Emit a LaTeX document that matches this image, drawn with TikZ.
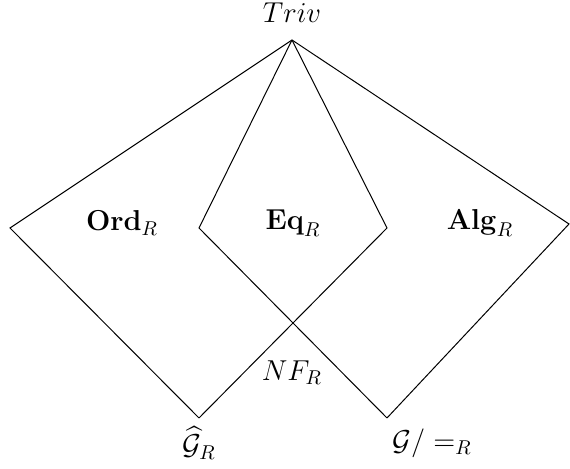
\documentclass[tikz,border=0pt]{standalone}
\usepackage{amsmath,amssymb}
\begin{document}
\begin{tikzpicture}[x=0.5pt,y=-0.5pt,
  edge/.style={line width=0.5pt,black},
  lbl/.style={font=\fontsize{14.5}{17}\selectfont,inner sep=0pt}]
\useasboundingbox (0,0) rectangle (570,469);
% vertices
\coordinate (top) at (292,40);
\coordinate (lv) at (10,228);
\coordinate (ml) at (199,228);
\coordinate (mr) at (387,228);
\coordinate (rv) at (569,224);
\coordinate (bl) at (199,418);
\coordinate (br) at (387,418);
% edges
\draw[edge] (top) -- (lv) -- (bl);
\draw[edge] (top) -- (ml) -- (br);
\draw[edge] (top) -- (mr) -- (bl);
\draw[edge] (top) -- (rv) -- (br);
% labels
\node[lbl] (triv) at (292,13) {$Triv$};
\node[lbl] (ord) at (122,223) {$\mathbf{Ord}_R$};
\node[lbl] (eq) at (293,223) {$\mathbf{Eq}_R$};
\node[lbl] (alg) at (480,223) {$\mathbf{Alg}_R$};
\node[lbl] (nf) at (292,373) {$NF_R$};
\node[lbl] (gh) at (199,443) {$\widehat{\mathcal{G}}_R$};
\node[lbl] (gq) at (432,443) {$\mathcal{G}/=_R$};
\end{tikzpicture}
\end{document}
